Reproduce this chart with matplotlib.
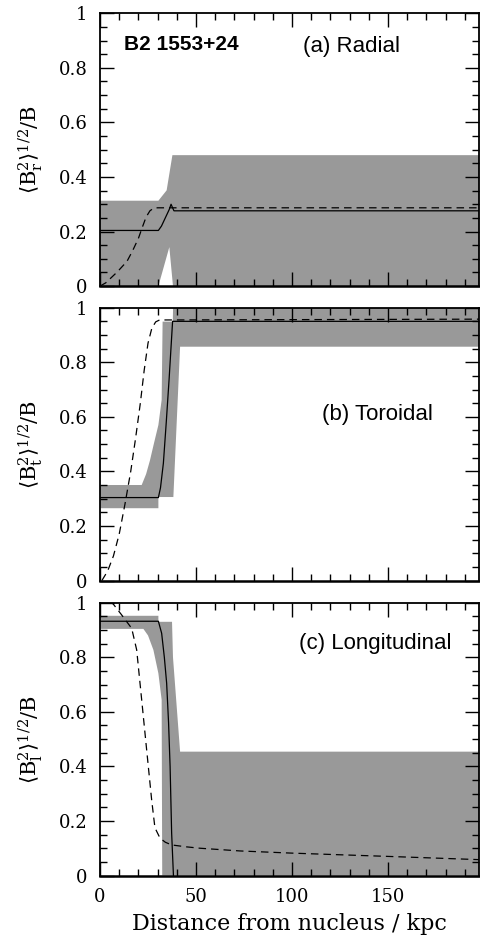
import numpy as np
import matplotlib
matplotlib.use("Agg")
import matplotlib.pyplot as plt
from matplotlib.ticker import MultipleLocator, FixedLocator, FixedFormatter

plt.rcParams["font.family"] = ["DejaVu Serif"]
plt.rcParams["mathtext.fontset"] = "dejavuserif"

# %% data (distance in kpc)
# (a) radial
band_a_x_hi = [0, 30.4, 34.7, 37.7, 198]
band_a_hi = [0.313, 0.313, 0.351, 0.48, 0.48]
band_a_x_lo = [0, 30.4, 36.1, 38.0, 198]
band_a_lo = [0.0, 0.0, 0.143, 0.0, 0.0]
solid_a_x = [0, 30.4, 32, 34, 36, 37, 38.5, 198]
solid_a_y = [0.204, 0.204, 0.22, 0.25, 0.28, 0.30, 0.276, 0.276]
dash_a_x = [0, 3, 6, 9, 12, 14, 17, 20, 22, 24, 26, 28, 30, 198]
dash_a_y = [0.0, 0.012, 0.032, 0.052, 0.075, 0.09, 0.13, 0.175, 0.215, 0.253, 0.276, 0.286, 0.287, 0.287]

# (b) toroidal
band_b_x_hi = [0, 21.7, 24, 26, 28, 30.4, 32.1, 32.6, 37.9, 38.2, 198]
band_b_hi = [0.35, 0.35, 0.39, 0.44, 0.50, 0.57, 0.662, 0.949, 0.949, 1.05, 1.05]
band_b_x_lo = [0, 30.4, 30.4, 38.2, 41.7, 198]
band_b_lo = [0.265, 0.265, 0.306, 0.306, 0.857, 0.857]
solid_b_x = [0, 30.4, 31.5, 33, 34.5, 36, 37.8, 198]
solid_b_y = [0.304, 0.304, 0.34, 0.43, 0.58, 0.74, 0.95, 0.95]
dash_b_x = [1, 4, 7, 10, 13, 14, 16, 18.5, 21, 23, 25, 27, 29, 31, 198]
dash_b_y = [0.0, 0.035, 0.09, 0.17, 0.28, 0.32, 0.40, 0.52, 0.65, 0.77, 0.87, 0.925, 0.948, 0.955, 0.958]

# (c) longitudinal
band_c_x_hi = [0, 30.4, 30.4, 37.5, 38.0, 41.7, 198]
band_c_hi = [0.952, 0.952, 0.93, 0.93, 0.80, 0.454, 0.454]
band_c_x_lo = [0, 22.6, 25, 27.8, 30.4, 32.1, 32.4, 198]
band_c_lo = [0.904, 0.904, 0.88, 0.827, 0.741, 0.644, 0.0, 0.0]
solid_c_x = [0, 30.4, 32.1, 33.5, 34.7, 35.7, 36.5, 37.3, 38.3]
solid_c_y = [0.932, 0.932, 0.888, 0.80, 0.705, 0.56, 0.40, 0.156, -0.01]
dash_c_x = [0, 4, 6.9, 11.3, 16.5, 19.1, 21.7, 24.3, 26.9, 28.6, 31.25, 34, 37.3, 45, 52, 72.9, 100, 150, 198]
dash_c_y = [1.03, 1.01, 0.995, 0.955, 0.906, 0.827, 0.644, 0.46, 0.277, 0.175, 0.137, 0.122, 0.112, 0.105, 0.10, 0.09, 0.082, 0.07, 0.058]

panels = [
    (band_a_x_hi, band_a_hi, band_a_x_lo, band_a_lo, solid_a_x, solid_a_y, dash_a_x, dash_a_y, "r", "(a) Radial", (0.535, 0.88)),
    (band_b_x_hi, band_b_hi, band_b_x_lo, band_b_lo, solid_b_x, solid_b_y, dash_b_x, dash_b_y, "t", "(b) Toroidal", (0.585, 0.61)),
    (band_c_x_hi, band_c_hi, band_c_x_lo, band_c_lo, solid_c_x, solid_c_y, dash_c_x, dash_c_y, "l", "(c) Longitudinal", (0.525, 0.851)),
]

yticks = [0, 0.2, 0.4, 0.6, 0.8, 1.0]
ytick_labels = ["0", "0.2", "0.4", "0.6", "0.8", "1"]
xticks = [0, 50, 100, 150]
xtick_labels = ["0", "50", "100", "150"]

# %% figure
W, H = 481, 938
fig = plt.figure(figsize=(W / 100, H / 100), dpi=100)
left = 100 / W
width = 379.3 / W
tops = [13.3, 307.7, 602.7]
ph = 272.8

axes = []
for i, (xh, yh, xl, yl, sx, sy, dx, dy, sub, title, tpos) in enumerate(panels):
    top = tops[i]
    ax = fig.add_axes([left, 1 - (top + ph) / H, width, ph / H])
    axes.append(ax)

    # grey band: upper edge then lower edge reversed
    px = np.concatenate([xh, xl[::-1]])
    py = np.concatenate([yh, yl[::-1]])
    ax.fill(px, py, color="#999999", lw=0, zorder=1)

    ax.plot(sx, sy, color="black", lw=0.9, zorder=3)
    ax.plot(dx, dy, color="black", lw=0.9, dashes=(6, 4), zorder=3)

    ax.set_xlim(0, 197.5)
    ax.set_ylim(0, 1)

    ax.yaxis.set_major_locator(FixedLocator(yticks))
    ax.yaxis.set_major_formatter(FixedFormatter(ytick_labels))
    ax.yaxis.set_minor_locator(MultipleLocator(0.05))
    ax.xaxis.set_major_locator(FixedLocator(xticks))
    ax.xaxis.set_minor_locator(MultipleLocator(10))
    if i == 2:
        ax.xaxis.set_major_formatter(FixedFormatter(xtick_labels))
        ax.set_xlabel("Distance from nucleus / kpc", fontsize=16, labelpad=5)
    else:
        ax.tick_params(axis="x", which="both", labelbottom=False)

    ax.tick_params(which="both", direction="in", top=True, right=True, width=1.0, labelsize=13, pad=9)
    ax.tick_params(which="major", length=10)
    ax.tick_params(which="minor", length=5)
    for s in ax.spines.values():
        s.set_linewidth(1.3)
        s.set_zorder(5)
    ax.spines["bottom"].set_linewidth(1.8)

    ax.set_ylabel(r"$\langle \mathrm{B}_\mathrm{%s}^2\rangle^{1/2}/\mathrm{B}$" % sub, fontsize=15)
    ax.yaxis.set_label_coords(-0.145, 0.5)

    ax.text(tpos[0], tpos[1], title, transform=ax.transAxes, fontsize=16,
            family=["Liberation Sans", "DejaVu Sans"], va="center", ha="left")

axes[0].text(0.063, 0.885, "B2 1553+24", transform=axes[0].transAxes, fontsize=15,
             fontweight="bold", family=["Liberation Sans", "DejaVu Sans"], va="center", ha="left")

fig.savefig("out.png", dpi=100)
